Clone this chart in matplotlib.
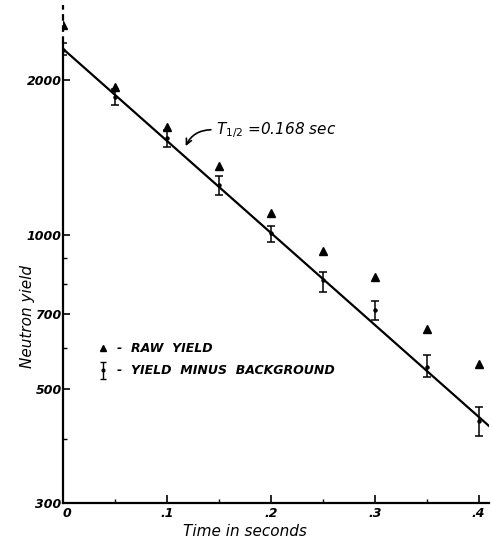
import numpy as np
import matplotlib
matplotlib.use("Agg")
import matplotlib.pyplot as plt
from matplotlib.ticker import FixedLocator, NullFormatter

# data
t = [0.0, 0.05, 0.1, 0.15, 0.2, 0.25, 0.3, 0.35, 0.4]
raw_yield = [2557, 1939, 1621, 1361, 1103, 927, 825, 654, 559]
net_yield = [2290, 1853, 1543, 1250, 1009, 814, 712, 553, 433]
net_lo = [2236, 1790, 1480, 1195, 969, 772, 681, 527, 405]
net_hi = [2359, 1920, 1600, 1300, 1041, 844, 741, 582, 462]
fit_t = [0.0, 0.41]
fit_a = 2300
half_life = 0.168

y_major = [300, 500, 700, 1000, 2000]
y_major_labels = ["300", "500", "700", "1000", "2000"]
y_minor = [400, 600, 800, 900]
x_major = [0, 0.1, 0.2, 0.3, 0.4]
x_major_labels = ["0", ".1", ".2", ".3", ".4"]
x_minor = [0.05, 0.15, 0.25, 0.35]

fig = plt.figure(figsize=(4.92, 5.39), dpi=100)
ax = fig.add_axes([0.128, 0.0668, 0.866, 0.924])
ax.set_yscale("log")
ax.set_xlim(0, 0.41)
ax.set_ylim(300, 2800)

# fit line
ft = np.array(fit_t)
ax.plot(ft, fit_a * 2 ** (-ft / half_life), color="black", lw=1.6, zorder=2)

# raw yield triangles
ax.plot(t, raw_yield, "^", color="black", ms=6, zorder=3)

# background-corrected yield with error bars
err = [np.array(net_yield) - np.array(net_lo), np.array(net_hi) - np.array(net_yield)]
ax.errorbar(t, net_yield, yerr=err, fmt="o", ms=2.2, color="black",
            ecolor="black", elinewidth=1.1, capsize=3, capthick=1.1, zorder=3)

# spines
for s in ["top", "right", "left"]:
    ax.spines[s].set_visible(False)
ax.spines["bottom"].set_linewidth(1.6)
ax.plot([0, 0], [300, 2360], color="black", lw=1.6, clip_on=False, zorder=4)
ax.plot([0, 0], [2360, 2800], color="black", lw=1.6, ls=(0, (3, 2)),
        clip_on=False, zorder=4)

# ticks
ax.yaxis.set_major_locator(FixedLocator(y_major))
ax.yaxis.set_minor_locator(FixedLocator(y_minor))
ax.yaxis.set_minor_formatter(NullFormatter())
ax.set_yticklabels(y_major_labels)
ax.xaxis.set_major_locator(FixedLocator(x_major))
ax.xaxis.set_minor_locator(FixedLocator(x_minor))
ax.set_xticklabels(x_major_labels)
ax.tick_params(axis="both", which="major", direction="in", length=6, width=1.2,
               labelsize=9, pad=3)
ax.tick_params(axis="both", which="minor", direction="in", length=3, width=1.0)
ax.tick_params(axis="y", which="major", length=5, pad=1)
for lab in ax.get_xticklabels() + ax.get_yticklabels():
    lab.set_fontstyle("italic")
    lab.set_fontweight("bold")
ax.get_xticklabels()[0].set_horizontalalignment("left")

ax.set_xlabel("Time in seconds", fontsize=11, fontstyle="italic")
ax.set_ylabel("Neutron yield", fontsize=11, fontstyle="italic")
ax.xaxis.set_label_coords(0.427, -0.042)
ax.yaxis.set_label_coords(-0.066, 0.375)

# half-life annotation
ax.annotate("", xy=(0.117, 1470), xytext=(0.145, 1600),
            arrowprops=dict(arrowstyle="->", color="black", lw=1.2,
                            connectionstyle="arc3,rad=0.35"))
ax.text(0.147, 1600, r"$T_{1/2}$ =0.168 sec", fontsize=11, fontstyle="italic",
        va="center", ha="left")

# legend drawn by hand
ax.plot([0.0385], [601], "^", color="black", ms=5, clip_on=False)
ax.text(0.052, 601, "-  RAW  YIELD", fontsize=9, fontstyle="italic",
        fontweight="bold", va="center")
ax.errorbar([0.0385], [544], yerr=[[20], [20]], fmt="o", ms=2, color="black",
            elinewidth=1, capsize=2, capthick=1)
ax.text(0.052, 544, "-  YIELD  MINUS  BACKGROUND", fontsize=9,
        fontstyle="italic", fontweight="bold", va="center")

fig.savefig("out.png", dpi=100)
